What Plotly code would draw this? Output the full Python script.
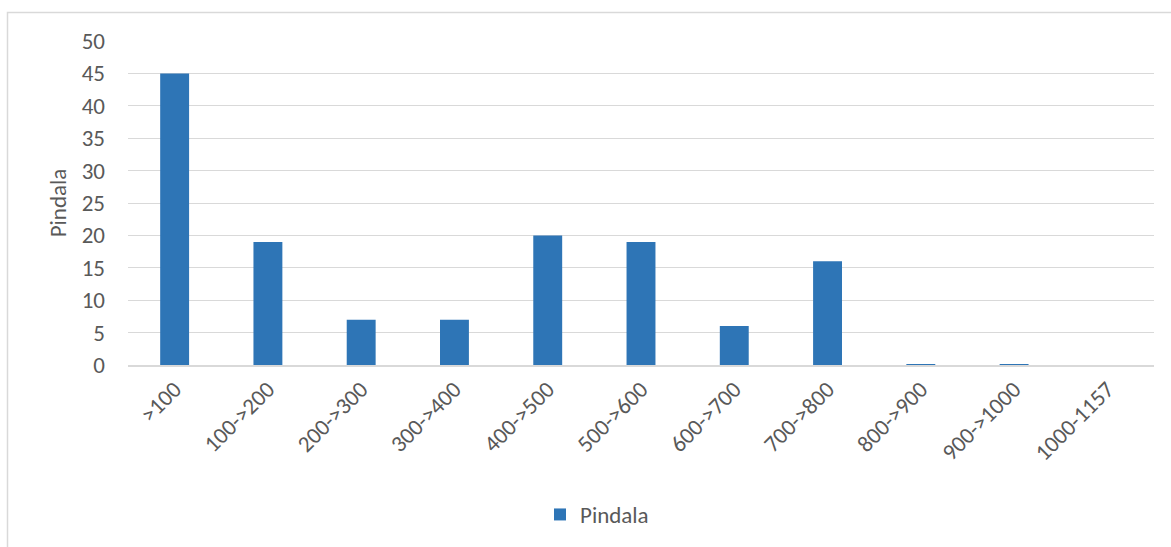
import plotly.graph_objects as go

# Area classes and their counts
categories = [">100", "100->200", "200->300", "300->400", "400->500", "500->600",
              "600->700", "700->800", "800->900", "900->1000", "1000-1157"]
pindala = [45, 19, 7, 7, 20, 19, 6, 16, 0.15, 0.15, 0]

FONT = "Calibri, Carlito, Lato, sans-serif"
GREY = "#595959"
LINE = "#d9d9d9"
FS = 23

W, H = 1171, 547
ml, mr, mt, mb = 128, 17, 41, 182
pw, ph = W - ml - mr, H - mt - mb

fig = go.Figure(
    go.Bar(
        x=categories,
        y=pindala,
        name="Pindala",
        marker=dict(color="#2e75b6", line=dict(width=0)),
    )
)

# Outer chart frame (extends past the visible canvas on the right and bottom)
def px_x(v):
    return (v - ml) / pw

def px_y(v):
    return 1 - (v - mt) / ph

fig.add_shape(
    type="rect", xref="paper", yref="paper",
    x0=px_x(7.5), x1=px_x(1180), y0=px_y(12.5), y1=px_y(560),
    line=dict(color=LINE, width=1.5), fillcolor="rgba(0,0,0,0)", layer="below",
)

fig.update_layout(
    width=W, height=H,
    margin=dict(l=ml, r=mr, t=mt, b=mb, autoexpand=False),
    paper_bgcolor="white", plot_bgcolor="white",
    font=dict(family=FONT, size=FS, color=GREY),
    bargap=0.69,
    showlegend=True,
    legend=dict(
        orientation="h", x=px_x(597), xanchor="center", y=px_y(493), yanchor="top",
        font=dict(family=FONT, size=FS, color=GREY),
        itemwidth=30,
    ),
    xaxis=dict(
        tickangle=-45, showgrid=False, showline=True, linecolor=LINE, linewidth=1.5,
        ticks="", automargin=False, tickfont=dict(size=FS, color=GREY),
    ),
    yaxis=dict(
        range=[0, 50], dtick=5, showgrid=True, gridcolor=LINE, gridwidth=1,
        zeroline=False, showline=False, ticks="", automargin=False,
        ticklabelstandoff=22, tickfont=dict(size=FS, color=GREY),
        title=dict(text="Pindala", standoff=8, font=dict(size=FS, color=GREY)),
    ),
)

fig.write_html("out.html")
